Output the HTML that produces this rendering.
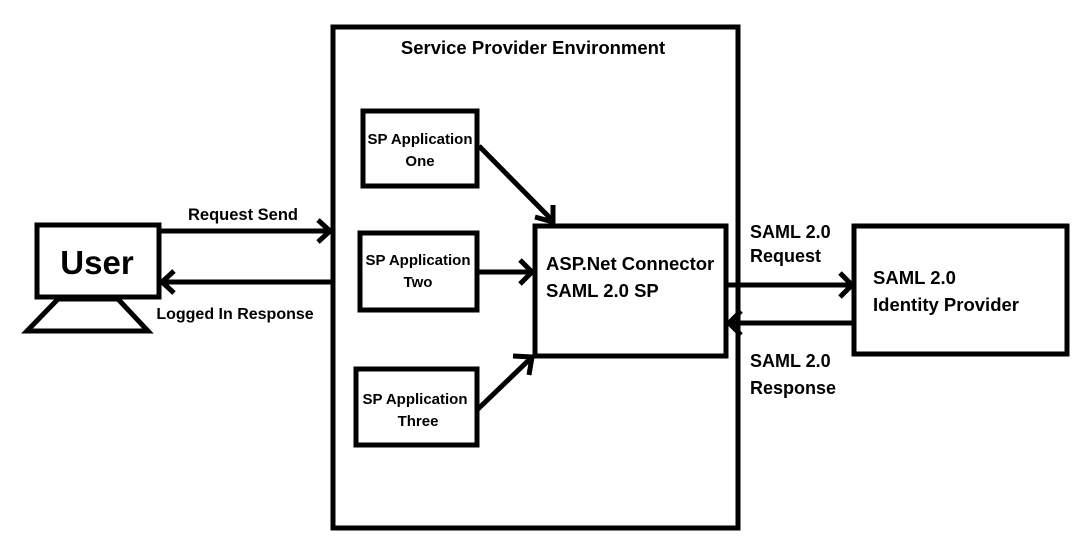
<!DOCTYPE html>
<html><head><meta charset="utf-8"><style>
html,body{margin:0;padding:0;background:#fff;width:1080px;height:541px;overflow:hidden}
svg{display:block}
text{font-family:"Liberation Sans",sans-serif;font-weight:bold;fill:#000}
</style></head><body>
<svg width="1080" height="541" viewBox="0 0 1080 541" xmlns="http://www.w3.org/2000/svg">
<g fill="none" stroke="#000" stroke-width="5">
<rect x="333" y="27" width="405" height="501"/>
<rect x="363" y="111" width="114" height="75"/>
<rect x="360" y="233" width="117" height="77"/>
<rect x="356" y="369" width="121" height="76"/>
<rect x="535" y="226" width="191" height="130"/>
<rect x="37" y="225" width="122" height="72"/>
<polygon points="58,299 118,299 148,331 27,331"/>
<rect x="854" y="226" width="213" height="128"/>
<line x1="159" y1="231" x2="331" y2="231"/>
<polyline points="318,220 330,231 318,242"/>
<line x1="331" y1="282" x2="162" y2="282"/>
<polyline points="174,271 162,282 174,293"/>
<line x1="479" y1="146" x2="553" y2="221"/>
<polyline points="535,217 553,222 553,205"/>
<line x1="477" y1="272" x2="531" y2="272"/>
<polyline points="520,260 532,272 520,284"/>
<line x1="478" y1="409" x2="531" y2="358"/>
<polyline points="513,356 532,357 529,375"/>
<line x1="726" y1="285" x2="852" y2="285"/>
<polyline points="840,273 852,285 840,297"/>
<line x1="854" y1="323" x2="729" y2="323"/>
<polyline points="741,311 729,323 741,335"/>
</g>
<text x="533" y="54" font-size="18.5" text-anchor="middle">Service Provider Environment</text>
<text x="97" y="274" font-size="33" text-anchor="middle">User</text>
<text x="243" y="220" font-size="16.5" text-anchor="middle">Request Send</text>
<text x="235" y="319" font-size="16" text-anchor="middle">Logged In Response</text>
<text x="420" y="144" font-size="15" text-anchor="middle">SP Application</text>
<text x="420" y="166" font-size="15" text-anchor="middle">One</text>
<text x="418" y="265" font-size="15" text-anchor="middle">SP Application</text>
<text x="418" y="287" font-size="15" text-anchor="middle">Two</text>
<text x="415" y="404" font-size="15" text-anchor="middle">SP Application</text>
<text x="418" y="426" font-size="15" text-anchor="middle">Three</text>
<text x="546" y="270" font-size="18.5">ASP.Net Connector</text>
<text x="546" y="297" font-size="18.5">SAML 2.0 SP</text>
<text x="750" y="238" font-size="18">SAML 2.0</text>
<text x="750" y="262" font-size="18">Request</text>
<text x="750" y="367" font-size="18">SAML 2.0</text>
<text x="750" y="394" font-size="18">Response</text>
<text x="873" y="284" font-size="18.5">SAML 2.0</text>
<text x="873" y="311" font-size="18.5">Identity Provider</text>
</svg>
</body></html>
